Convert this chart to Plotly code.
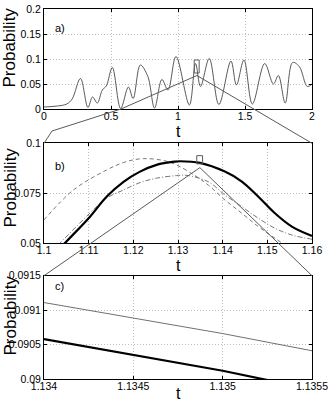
import plotly.graph_objects as go

# ---- data -------------------------------------------------------------
# a) full time trace
t_a = [0.00, 0.10, 0.17, 0.21, 0.272, 0.328, 0.362, 0.398, 0.435, 0.465,
       0.510, 0.572, 0.630, 0.665, 0.719, 0.775, 0.825, 0.880, 0.925, 0.985,
       1.085, 1.131, 1.168, 1.233, 1.305, 1.395, 1.436, 1.492, 1.555, 1.647,
       1.712, 1.749, 1.800, 1.855, 1.905, 1.965, 2.000]
p_a = [0.004, 0.006, 0.010, 0.020, 0.061, 0.003, 0.024, 0.012, 0.038, 0.046,
       0.083, 0.001, 0.044, 0.021, 0.088, 0.065, 0.002, 0.059, 0.038, 0.105,
       0.008, 0.091, 0.045, 0.101, 0.009, 0.096, 0.048, 0.098, 0.010, 0.091,
       0.050, 0.067, 0.012, 0.093, 0.085, 0.045, 0.050]

# b) zoom around the peak near t = 1.13
t_b_exact = [1.100, 1.1047, 1.1103, 1.114, 1.1178, 1.1215, 1.1252, 1.1293, 1.1305,
             1.1349, 1.1405, 1.1443, 1.148, 1.1517, 1.1555, 1.160]
p_b_exact = [0.039, 0.050, 0.0632, 0.0732, 0.0807, 0.0858, 0.0892, 0.0908, 0.0910,
             0.0902, 0.0858, 0.0808, 0.0732, 0.0649, 0.0582, 0.0535]

t_b_dash = [1.100, 1.1066, 1.114, 1.118, 1.1222, 1.1282, 1.1338, 1.1368, 1.1405,
            1.1443, 1.148, 1.1517, 1.156]
p_b_dash = [0.0616, 0.0766, 0.0866, 0.0905, 0.0923, 0.0905, 0.0838, 0.0790, 0.0716,
            0.0649, 0.0582, 0.0524, 0.046]

t_b_dashdot = [1.100, 1.1036, 1.1103, 1.114, 1.1178, 1.1215, 1.1252, 1.1297, 1.132,
               1.1368, 1.1405, 1.1443, 1.148, 1.1517, 1.1555, 1.160]
p_b_dashdot = [0.042, 0.050, 0.0650, 0.0725, 0.0766, 0.0803, 0.0825, 0.0838, 0.0839,
               0.0807, 0.0741, 0.0682, 0.0624, 0.0574, 0.0540, 0.0519]

# c) tiny window
t_c = [1.134, 1.1345, 1.135, 1.1355]
p_c_approx = [0.09111, 0.09089, 0.09066, 0.09041]
p_c_exact = [0.09058, 0.09035, 0.09012, 0.08985]

ticks_a_x = [0, 0.5, 1, 1.5, 2]
ticks_a_y = [0, 0.05, 0.1, 0.15, 0.2]
labels_a_x = ["0", "0.5", "1", "1.5", "2"]
labels_a_y = ["0", "0.05", "0.1", "0.15", "0.2"]
ticks_b_x = [1.10, 1.11, 1.12, 1.13, 1.14, 1.15, 1.16]
labels_b_x = ["1.1", "1.11", "1.12", "1.13", "1.14", "1.15", "1.16"]
ticks_b_y = [0.05, 0.075, 0.1]
labels_b_y = ["0.05", "0.075", "0.1"]
ticks_c_x = [1.134, 1.1345, 1.135, 1.1355]
labels_c_x = ["1.134", "1.1345", "1.135", "1.1355"]
ticks_c_y = [0.09, 0.0905, 0.091, 0.0915]
labels_c_y = ["0.09", "0.0905", "0.091", "0.0915"]

# ---- geometry (pixels in a 332x409 page) --------------------------------
W, H = 332, 409
FONT = "Liberation Sans, Arial, sans-serif"
X0, X1 = 44, 312
PANELS = {
    "a": dict(y0=9.0, y1=109.0, xr=[0, 2], yr=[0, 0.2]),
    "b": dict(y0=143.3, y1=243.0, xr=[1.1, 1.16], yr=[0.05, 0.1]),
    "c": dict(y0=275.7, y1=379.0, xr=[1.134, 1.1355], yr=[0.09, 0.0915]),
}


def to_px(panel, t, p):
    g = PANELS[panel]
    x = X0 + (t - g["xr"][0]) / (g["xr"][1] - g["xr"][0]) * (X1 - X0)
    y = g["y1"] - (p - g["yr"][0]) / (g["yr"][1] - g["yr"][0]) * (g["y1"] - g["y0"])
    return x, y


def paper(x, y):
    return x / W, 1 - y / H


def path(points):
    pts = [paper(x, y) for x, y in points]
    return "M " + " L ".join(f"{x:.5f},{y:.5f}" for x, y in pts)


fig = go.Figure()

GRAY = "#5a5a5a"
fig.add_trace(go.Scatter(x=t_a, y=p_a, mode="lines", line=dict(color=GRAY, width=1, shape="spline", smoothing=1.0),
                         xaxis="x", yaxis="y", showlegend=False))

fig.add_trace(go.Scatter(x=t_b_dash, y=p_b_dash, mode="lines",
                         line=dict(color="#777777", width=1, dash="4px,3px", shape="spline"),
                         xaxis="x2", yaxis="y2", showlegend=False))
fig.add_trace(go.Scatter(x=t_b_dashdot, y=p_b_dashdot, mode="lines",
                         line=dict(color="#777777", width=1, dash="5px,2px,1px,2px", shape="spline"),
                         xaxis="x2", yaxis="y2", showlegend=False))
fig.add_trace(go.Scatter(x=t_b_exact, y=p_b_exact, mode="lines",
                         line=dict(color="black", width=2.2, shape="spline"),
                         xaxis="x2", yaxis="y2", showlegend=False))

fig.add_trace(go.Scatter(x=t_c, y=p_c_approx, mode="lines", line=dict(color="#707070", width=1),
                         xaxis="x3", yaxis="y3", showlegend=False))
fig.add_trace(go.Scatter(x=t_c, y=p_c_exact, mode="lines", line=dict(color="black", width=2.2),
                         xaxis="x3", yaxis="y3", showlegend=False))


def axis_style(rng, tv, tt, domain):
    return dict(domain=domain, range=rng, tickvals=tv, ticktext=tt, ticks="inside", ticklen=3,
                tickcolor="black", showline=True, linecolor="black", linewidth=1, mirror="ticks",
                showgrid=True, gridcolor="#bdbdbd", griddash="1px,2px", gridwidth=1,
                zeroline=False, fixedrange=True, automargin=False,
                tickfont=dict(family=FONT, size=10.5, color="black"))


xdom = [X0 / W, X1 / W]
layout = dict(width=W, height=H, margin=dict(l=0, r=0, t=0, b=0),
              paper_bgcolor="white", plot_bgcolor="white", showlegend=False)
names = {"a": ("xaxis", "yaxis", "x", "y"), "b": ("xaxis2", "yaxis2", "x2", "y2"),
         "c": ("xaxis3", "yaxis3", "x3", "y3")}
ticks = {"a": (ticks_a_x, labels_a_x, ticks_a_y, labels_a_y),
         "b": (ticks_b_x, labels_b_x, ticks_b_y, labels_b_y),
         "c": (ticks_c_x, labels_c_x, ticks_c_y, labels_c_y)}
for k, g in PANELS.items():
    xa, ya, xr_, yr_ = names[k]
    txv, txt, tyv, tyt = ticks[k]
    ydom = [1 - g["y1"] / H, 1 - g["y0"] / H]
    layout[xa] = axis_style(g["xr"], txv, txt, xdom)
    layout[xa]["anchor"] = yr_
    layout[xa]["ticklabelstandoff"] = -3
    layout[ya] = axis_style(g["yr"], tyv, tyt, ydom)
    layout[ya]["anchor"] = xr_
fig.update_layout(**layout)

# zoom boxes
fig.add_shape(type="rect", xref="x", yref="y", x0=1.121, x1=1.158, y0=0.072, y1=0.098,
              line=dict(color=GRAY, width=1))
fig.add_shape(type="rect", xref="x2", yref="y2", x0=1.1342, x1=1.1355, y0=0.0897, y1=0.0938,
              line=dict(color=GRAY, width=1))

# connector lines
apex_a = to_px("a", 1.141, 0.067)
bl, br = to_px("b", 1.1, 0.1), to_px("b", 1.16, 0.1)
apex_b = to_px("b", 1.1349, 0.0878)
cl, cr = to_px("c", 1.134, 0.0915), to_px("c", 1.1355, 0.0915)
for pts in ([apex_a, (121, 109), (52, 131), bl], [apex_a, br],
            [apex_b, cl], [apex_b, cr]):
    fig.add_shape(type="path", xref="paper", yref="paper", path=path(pts),
                  line=dict(color=GRAY, width=1))


def label(text, x, y, size, angle=0):
    fx, fy = paper(x, y)
    fig.add_annotation(text=text, x=fx, y=fy, xref="paper", yref="paper", showarrow=False,
                       xanchor="center", yanchor="middle", textangle=angle,
                       font=dict(family=FONT, size=size, color="black"))


for lbl, (x, y) in {"a)": (60, 28), "b)": (60, 166), "c)": (59, 286)}.items():
    label(lbl, x, y, 11)
for y in (48, 188, 316):
    label("Probability", 9.5, y, 17, angle=-90)
for y in (131, 265, 393):
    label("t", 178, y, 16)

fig.write_html("out.html", config={"displayModeBar": False},
               post_script="document.body.style.margin='0';")
